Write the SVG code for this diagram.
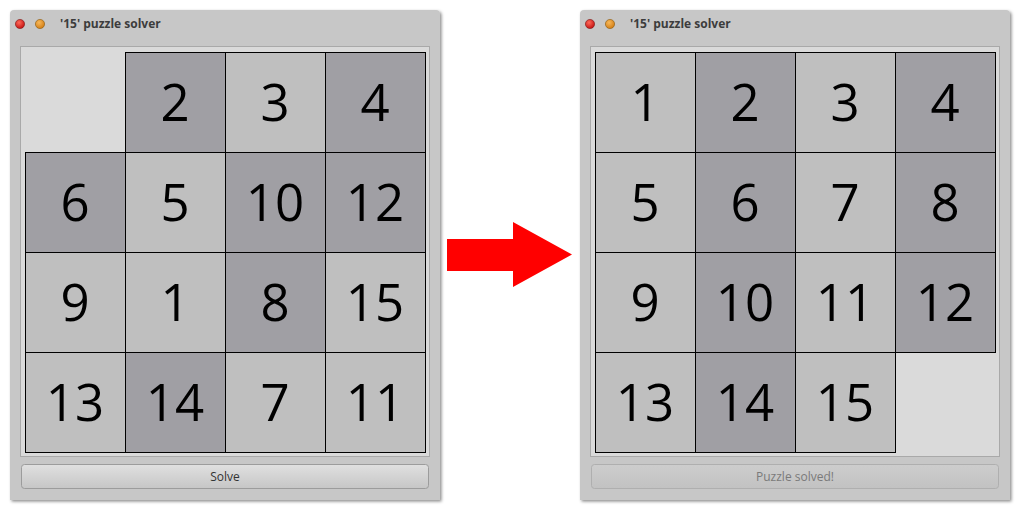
<svg xmlns="http://www.w3.org/2000/svg" width="1020" height="510" viewBox="0 0 1020 510">
<style>
.win{fill:#c7c7c7;}
.panel{fill:#dadada;stroke:#a9a9a9;stroke-width:1;}
.tl{fill:#bfbfbf;stroke:#000;stroke-width:1;}
.td{fill:#a09fa4;stroke:#000;stroke-width:1;}
.num{font-family:"Open Sans","DejaVu Sans",sans-serif;font-size:51px;fill:#000;text-anchor:middle;}
.title{font-family:"Open Sans","DejaVu Sans",sans-serif;font-size:12px;font-weight:bold;fill:#3c3c3c;}
.btn{font-family:"Open Sans","DejaVu Sans",sans-serif;font-size:12px;text-anchor:middle;}
</style>
<defs>
<filter id="sh" x="-5%" y="-5%" width="110%" height="110%">
<feDropShadow dx="1.5" dy="1.5" stdDeviation="1.5" flood-color="#000" flood-opacity="0.45"/>
</filter>
<linearGradient id="bg1" x1="0" y1="0" x2="0" y2="1">
<stop offset="0" stop-color="#e0e0e0"/>
<stop offset="1" stop-color="#c6c6c6"/>
</linearGradient>
<linearGradient id="bg2" x1="0" y1="0" x2="0" y2="1">
<stop offset="0" stop-color="#cdcdcd"/>
<stop offset="1" stop-color="#c2c2c2"/>
</linearGradient>
<radialGradient id="red" cx="0.4" cy="0.35" r="0.7">
<stop offset="0" stop-color="#ff6a5a"/>
<stop offset="1" stop-color="#c00d0d"/>
</radialGradient>
<radialGradient id="org" cx="0.4" cy="0.35" r="0.7">
<stop offset="0" stop-color="#f7b85a"/>
<stop offset="1" stop-color="#d07a10"/>
</radialGradient>
</defs>
<rect width="1020" height="510" fill="#fff"/>

<g id="window-left">
<path class="win" filter="url(#sh)" d="M10,500 V14 Q10,10 14,10 H436 Q440,10 440,14 V500 Z"/>
<circle cx="20" cy="24" r="4.6" fill="url(#red)" stroke="#7a1a1a" stroke-width="0.6"/>
<circle cx="40" cy="24" r="4.6" fill="url(#org)" stroke="#8a5a10" stroke-width="0.6"/>
<text class="title" x="60" y="28">'15' puzzle solver</text>
<rect class="panel" x="20.5" y="46.5" width="409" height="410"/>
<g id="tiles-left">
<rect class="td" x="125.5" y="52.5" width="100" height="100"/>
<rect class="tl" x="225.5" y="52.5" width="100" height="100"/>
<rect class="td" x="325.5" y="52.5" width="100" height="100"/>
<rect class="td" x="25.5" y="152.5" width="100" height="100"/>
<rect class="tl" x="125.5" y="152.5" width="100" height="100"/>
<rect class="td" x="225.5" y="152.5" width="100" height="100"/>
<rect class="td" x="325.5" y="152.5" width="100" height="100"/>
<rect class="tl" x="25.5" y="252.5" width="100" height="100"/>
<rect class="tl" x="125.5" y="252.5" width="100" height="100"/>
<rect class="td" x="225.5" y="252.5" width="100" height="100"/>
<rect class="tl" x="325.5" y="252.5" width="100" height="100"/>
<rect class="tl" x="25.5" y="352.5" width="100" height="100"/>
<rect class="td" x="125.5" y="352.5" width="100" height="100"/>
<rect class="tl" x="225.5" y="352.5" width="100" height="100"/>
<rect class="tl" x="325.5" y="352.5" width="100" height="100"/>
<text class="num" x="175" y="121">2</text>
<text class="num" x="275" y="121">3</text>
<text class="num" x="375" y="121">4</text>
<text class="num" x="75" y="221">6</text>
<text class="num" x="175" y="221">5</text>
<text class="num" x="275" y="221">10</text>
<text class="num" x="375" y="221">12</text>
<text class="num" x="75" y="321">9</text>
<text class="num" x="175" y="321">1</text>
<text class="num" x="275" y="321">8</text>
<text class="num" x="375" y="321">15</text>
<text class="num" x="75" y="421">13</text>
<text class="num" x="175" y="421">14</text>
<text class="num" x="275" y="421">7</text>
<text class="num" x="375" y="421">11</text>
</g>
<rect x="21.5" y="464.5" width="407" height="24" rx="3" fill="url(#bg1)" stroke="#9c9c9c"/>
<text class="btn" x="225" y="481" fill="#333">Solve</text>
</g>

<g id="connectors">
<path d="M447,239 H513 V222 L572,254.5 L513,287 V271 H447 Z" fill="#ff0000"/>
</g>

<g id="window-right">
<path class="win" filter="url(#sh)" d="M580,500 V14 Q580,10 584,10 H1006 Q1010,10 1010,14 V500 Z"/>
<circle cx="590" cy="24" r="4.6" fill="url(#red)" stroke="#7a1a1a" stroke-width="0.6"/>
<circle cx="610" cy="24" r="4.6" fill="url(#org)" stroke="#8a5a10" stroke-width="0.6"/>
<text class="title" x="630" y="28">'15' puzzle solver</text>
<rect class="panel" x="590.5" y="46.5" width="409" height="410"/>
<g id="tiles-right">
<rect class="tl" x="595.5" y="52.5" width="100" height="100"/>
<rect class="td" x="695.5" y="52.5" width="100" height="100"/>
<rect class="tl" x="795.5" y="52.5" width="100" height="100"/>
<rect class="td" x="895.5" y="52.5" width="100" height="100"/>
<rect class="tl" x="595.5" y="152.5" width="100" height="100"/>
<rect class="td" x="695.5" y="152.5" width="100" height="100"/>
<rect class="tl" x="795.5" y="152.5" width="100" height="100"/>
<rect class="td" x="895.5" y="152.5" width="100" height="100"/>
<rect class="tl" x="595.5" y="252.5" width="100" height="100"/>
<rect class="td" x="695.5" y="252.5" width="100" height="100"/>
<rect class="tl" x="795.5" y="252.5" width="100" height="100"/>
<rect class="td" x="895.5" y="252.5" width="100" height="100"/>
<rect class="tl" x="595.5" y="352.5" width="100" height="100"/>
<rect class="td" x="695.5" y="352.5" width="100" height="100"/>
<rect class="tl" x="795.5" y="352.5" width="100" height="100"/>
<text class="num" x="645" y="121">1</text>
<text class="num" x="745" y="121">2</text>
<text class="num" x="845" y="121">3</text>
<text class="num" x="945" y="121">4</text>
<text class="num" x="645" y="221">5</text>
<text class="num" x="745" y="221">6</text>
<text class="num" x="845" y="221">7</text>
<text class="num" x="945" y="221">8</text>
<text class="num" x="645" y="321">9</text>
<text class="num" x="745" y="321">10</text>
<text class="num" x="845" y="321">11</text>
<text class="num" x="945" y="321">12</text>
<text class="num" x="645" y="421">13</text>
<text class="num" x="745" y="421">14</text>
<text class="num" x="845" y="421">15</text>
</g>
<rect x="591.5" y="464.5" width="407" height="24" rx="3" fill="url(#bg2)" stroke="#afafaf"/>
<text class="btn" x="795" y="481" fill="#7a7a7a">Puzzle solved!</text>
</g>
</svg>
